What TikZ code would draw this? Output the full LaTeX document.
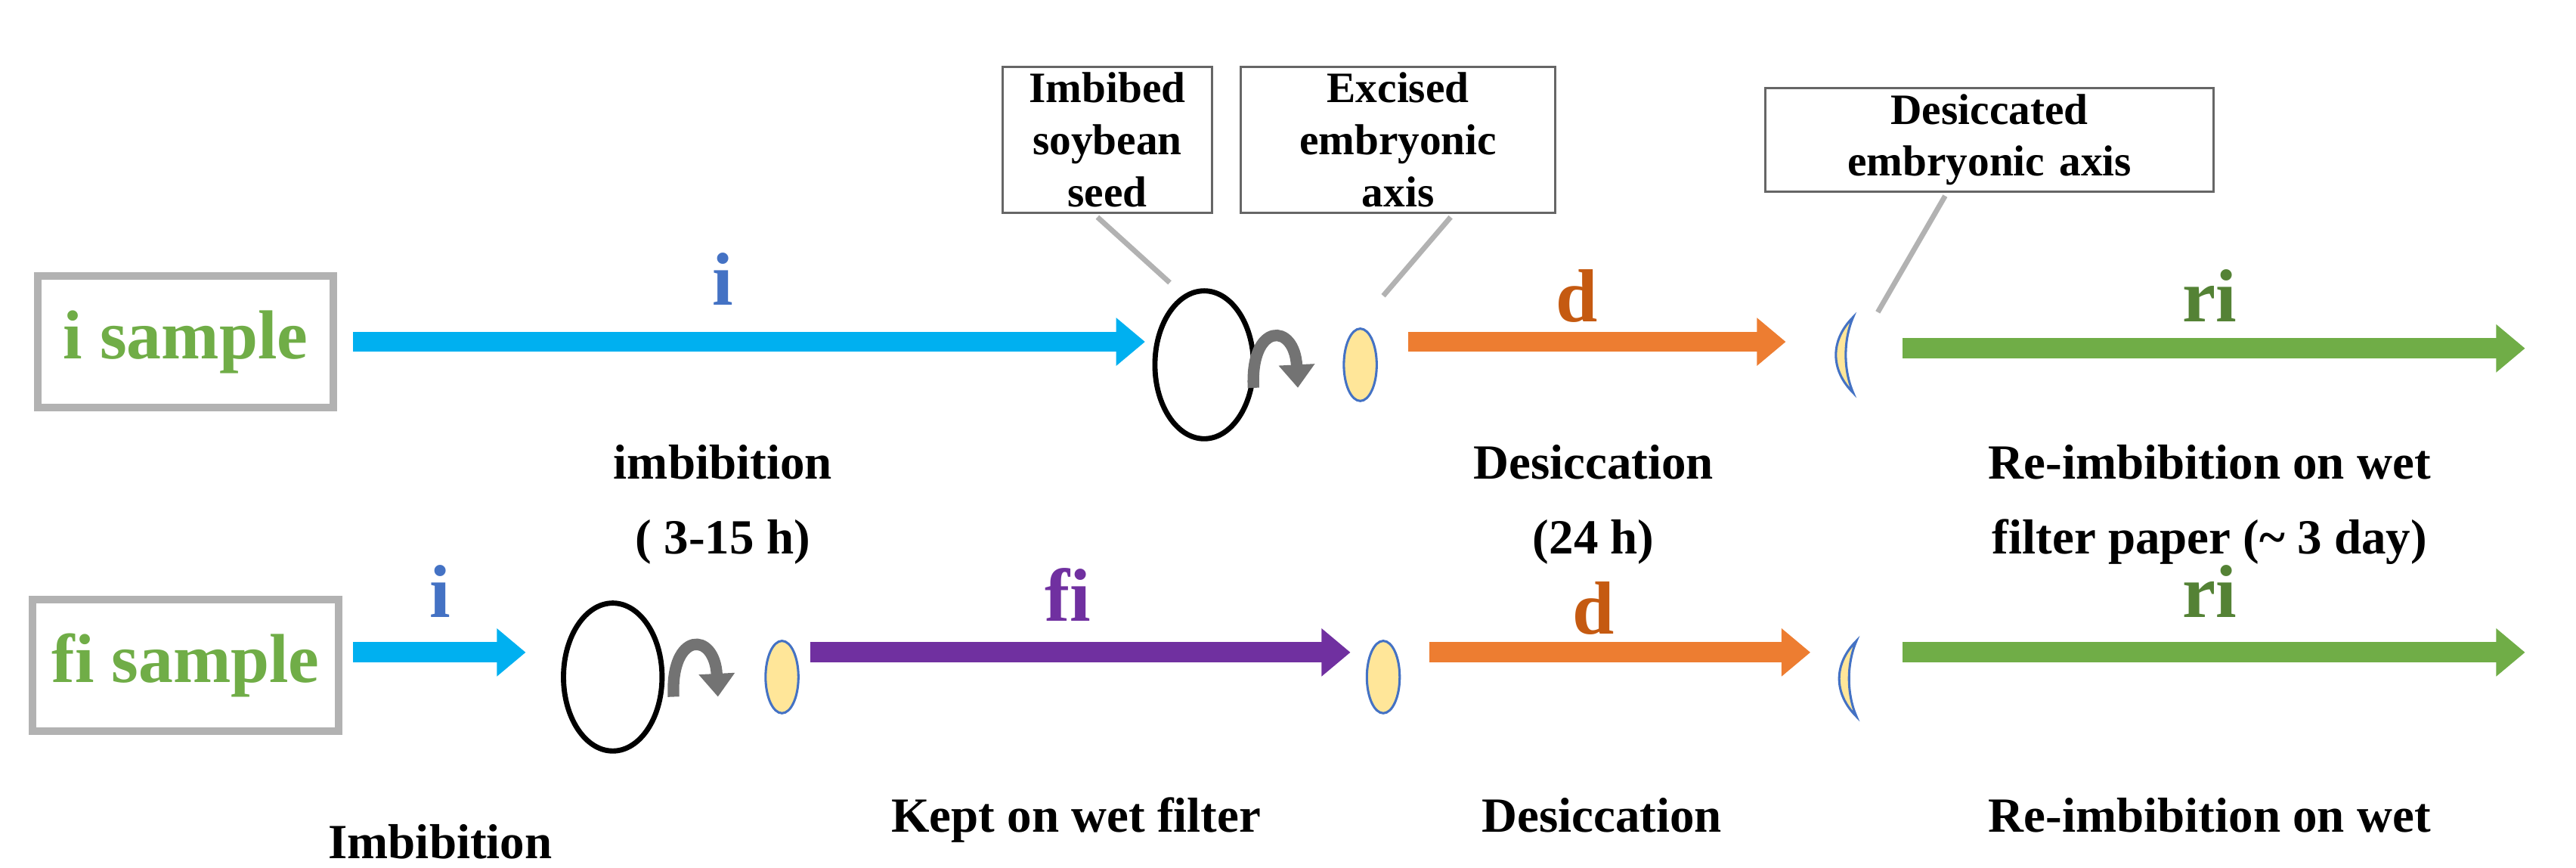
\documentclass[tikz,border=0pt]{standalone}
\usepackage{fontspec}
\setmainfont{Liberation Serif}
\usetikzlibrary{arrows.meta, positioning, calc}
\definecolor{samplegreen}{RGB}{112,173,71}
\definecolor{ilabel}{RGB}{68,114,196}
\definecolor{iarrow}{RGB}{0,176,240}
\definecolor{darrow}{RGB}{237,125,49}
\definecolor{dlabel}{RGB}{197,90,17}
\definecolor{riarrow}{RGB}{112,173,71}
\definecolor{rilabel}{RGB}{84,130,53}
\definecolor{fiarrow}{RGB}{112,48,160}
\definecolor{axisfill}{RGB}{255,230,153}
\definecolor{axisdraw}{RGB}{68,114,196}
\begin{document}
\begin{tikzpicture}[x=0.01cm, y=-0.01cm]
		\tikzstyle{sample}=[draw=black!30, line width=1.3pt, minimum width=1.8cm, minimum height=0.8cm, text=samplegreen, font=\bfseries\fontsize{12}{13}\selectfont]
		\tikzstyle{callout}=[draw=black!60, fill=white, text width=#1, align=center, inner sep=1pt, minimum height=0.63cm, font=\bfseries\fontsize{7.5}{9}\selectfont]
		\tikzstyle{steplab}=[font=\bfseries\fontsize{13}{14}\selectfont]
		\tikzstyle{note}=[align=center, font=\bfseries\fontsize{8.5}{13}\selectfont]
		\tikzstyle{seed}=[draw=black, line width=0.9pt]
		\tikzstyle{blockarrow}=[line width=3.5pt, -{Triangle[width=8pt,length=5pt]}]
		\tikzstyle{turn}=[draw=black!55, line width=2pt, -{Triangle[width=6pt,length=4pt]}]
		\tikzstyle{axis}=[draw=axisdraw, fill=axisfill, thin]
		\tikzstyle{lead}=[draw=black!30, line width=0.9pt]
		\useasboundingbox (0,0) rectangle (1568,528);
		
		%% row i
		\node [sample](S1) at (113,208) {i sample};
		\coordinate (a1s) at (215,208); \coordinate (a1e) at (697,208);
		\draw [blockarrow, iarrow] (a1s)--(a1e);
		\node [steplab, text=ilabel](L1) at (440,170) {i};
		\node [note](N1) at (440,307) {imbibition\\( 3-15 h)};
		\draw [seed] (733,222) ellipse (30 and 45);
		\coordinate (t1s) at (763,236); \coordinate (t1e) at (790,236);
		\draw [turn] (t1s) .. controls (761,196) and (788,196) .. (t1e);
		\draw [axis] (828,222) ellipse (10 and 22);
		\coordinate (a2s) at (857,208); \coordinate (a2e) at (1087,208);
		\draw [blockarrow, darrow] (a2s)--(a2e);
		\node [steplab, text=dlabel](L2) at (960,180) {d};
		\node [note](N2) at (970,307) {Desiccation\\(24 h)};
		\coordinate (C1) at (1128,215);
		\draw [axis] ($(C1)+(0,-22)$) .. controls ($(C1)+(-14,-8)$) and ($(C1)+(-14,10)$) .. ($(C1)+(0,24)$) .. controls ($(C1)+(-6,10)$) and ($(C1)+(-6,-8)$) .. cycle;
		\coordinate (a3s) at (1158,212); \coordinate (a3e) at (1537,212);
		\draw [blockarrow, riarrow] (a3s)--(a3e);
		\node [steplab, text=rilabel](L3) at (1345,180) {ri};
		\node [note](N3) at (1345,307) {Re-imbibition on wet\\filter paper (\textasciitilde\ 3 day)};
		
		%% callouts
		\node [callout=1.2cm](B1) at (674,85) {Imbibed\\soybean seed};
		\node [callout=1.84cm](B2) at (851,85) {Excised embryonic\\axis};
		\node [callout=2.66cm](B3) at (1211,85) {Desiccated\\embryonic axis};
		\coordinate (p1) at (712,172); \coordinate (p2) at (842,180); \coordinate (p3) at (1143,190);
		\draw [lead] ($(B1.south)+(-6,2)$)--(p1);
		\draw [lead] ($(B2.south)+(32,2)$)--(p2);
		\draw [lead] ($(B3.south)+(-27,2)$)--(p3);
		
		%% row fi
		\node [sample](S2) at (113,405) {fi sample};
		\coordinate (b1s) at (215,397); \coordinate (b1e) at (320,397);
		\draw [blockarrow, iarrow] (b1s)--(b1e);
		\node [steplab, text=ilabel](M1) at (268,360) {i};
		\node [note](O1) at (268,538) {Imbibition\\(3 h)};
		\draw [seed] (373,412) ellipse (30 and 45);
		\coordinate (t2s) at (410,424); \coordinate (t2e) at (437,424);
		\draw [turn] (t2s) .. controls (408,384) and (435,384) .. (t2e);
		\draw [axis] (476,412) ellipse (10 and 22);
		\coordinate (b2s) at (493,397); \coordinate (b2e) at (822,397);
		\draw [blockarrow, fiarrow] (b2s)--(b2e);
		\node [steplab, text=fiarrow](M2) at (650,362) {fi};
		\node [note](O2) at (655,522) {Kept on wet filter\\paper (3-16 h )};
		\draw [axis] (842,412) ellipse (10 and 22);
		\coordinate (b3s) at (870,397); \coordinate (b3e) at (1102,397);
		\draw [blockarrow, darrow] (b3s)--(b3e);
		\node [steplab, text=dlabel](M3) at (970,370) {d};
		\node [note](O3) at (975,522) {Desiccation\\(24 h)};
		\coordinate (C2) at (1130,412);
		\draw [axis] ($(C2)+(0,-22)$) .. controls ($(C2)+(-14,-8)$) and ($(C2)+(-14,10)$) .. ($(C2)+(0,24)$) .. controls ($(C2)+(-6,10)$) and ($(C2)+(-6,-8)$) .. cycle;
		\coordinate (b4s) at (1158,397); \coordinate (b4e) at (1537,397);
		\draw [blockarrow, riarrow] (b4s)--(b4e);
		\node [steplab, text=rilabel](M4) at (1345,360) {ri};
		\node [note](O4) at (1345,522) {Re-imbibition on wet\\filter paper (\textasciitilde\ 3 day)};
\end{tikzpicture}
\end{document}
